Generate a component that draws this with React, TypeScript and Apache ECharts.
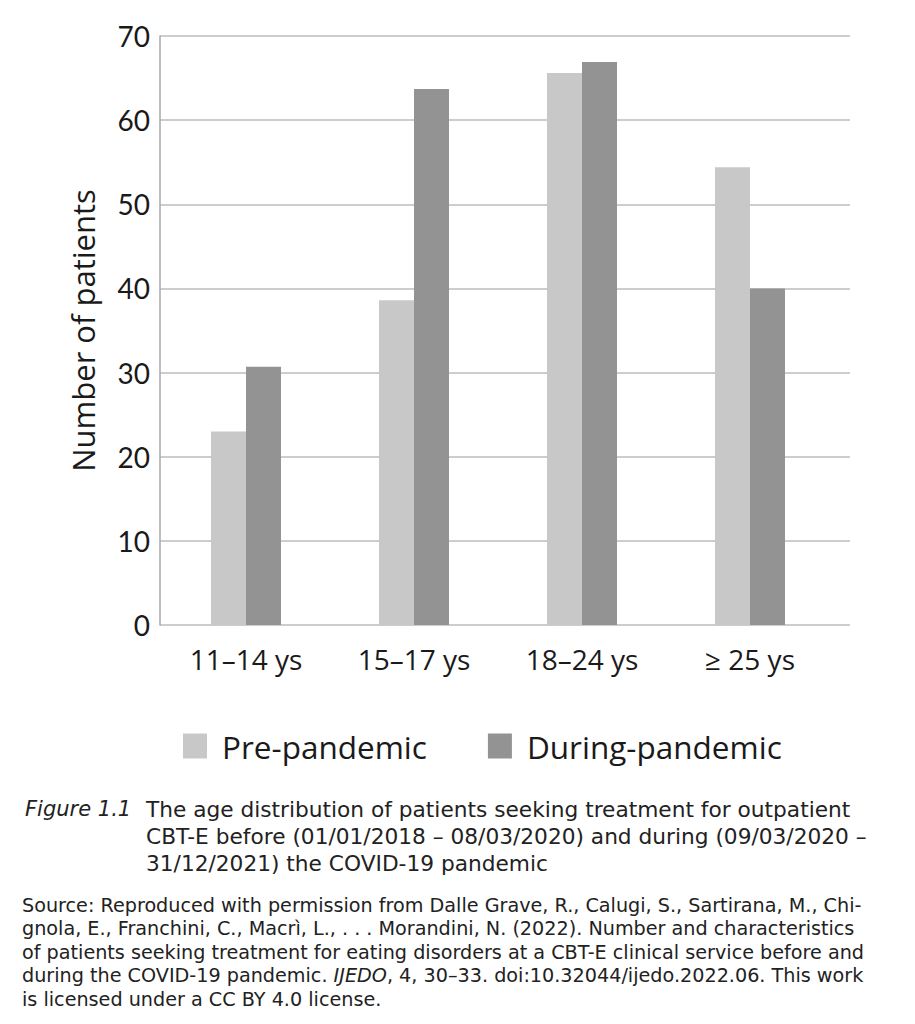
import React, { useEffect, useRef } from "react";
import * as echarts from "echarts";

const categories = ["11–14 ys", "15–17 ys", "18–24 ys", "≥ 25 ys"];
const prePandemic = [23, 38.6, 65.6, 54.4];
const duringPandemic = [30.7, 63.7, 66.9, 40];
const seriesNames = ["Pre-pandemic", "During-pandemic"];
const yTicks = { min: 0, max: 70, interval: 10 };

const figureLabel = "Figure 1.1";
const captionLines = [
  "The age distribution of patients seeking treatment for outpatient",
  "CBT-E before (01/01/2018 – 08/03/2020) and during (09/03/2020 –",
  "31/12/2021) the COVID-19 pandemic",
];
const sourceLines = [
  "Source: Reproduced with permission from Dalle Grave, R., Calugi, S., Sartirana, M., Chi-",
  "gnola, E., Franchini, C., Macrì, L., . . . Morandini, N. (2022). Number and characteristics",
  "of patients seeking treatment for eating disorders at a CBT-E clinical service before and",
  "{i|during the COVID-19 pandemic. }{it|IJEDO}{i|, 4, 30–33. doi:10.32044/ijedo.2022.06. This work}",
  "is licensed under a CC BY 4.0 license.",
];

const FONT = "'Open Sans', 'Noto Sans', sans-serif";
const TICK_FONT = "Lato, 'Open Sans', sans-serif";
const CAP_FONT = "'DejaVu Sans', sans-serif";

export default function App() {
  const ref = useRef<HTMLDivElement>(null);
  useEffect(() => {
    if (!ref.current) return;
    const chart = echarts.init(ref.current, undefined, { renderer: "svg" });
    const graphics: any[] = [];
    graphics.push({
      type: "text",
      x: 25,
      y: 809,
      style: {
        text: figureLabel,
        fontFamily: CAP_FONT,
        fontStyle: "italic",
        fontSize: 21,
        fill: "#222",
        verticalAlign: "middle",
      },
    });
    captionLines.forEach((t, i) => {
      graphics.push({
        type: "text",
        x: 146,
        y: 809 + i * 27,
        style: { text: t, fontFamily: CAP_FONT, fontSize: 21.7, fill: "#222", verticalAlign: "middle" },
      });
    });
    sourceLines.forEach((t, i) => {
      graphics.push({
        type: "text",
        x: 22,
        y: 905 + i * 23.5,
        style: {
          text: t,
          fontFamily: CAP_FONT,
          fontSize: 19.2,
          fill: "#222",
          verticalAlign: "middle",
          rich: {
            i: { fontFamily: CAP_FONT, fontSize: 19.2, fill: "#222" },
            it: { fontFamily: CAP_FONT, fontSize: 19.2, fontStyle: "italic", fill: "#222" },
          },
        },
      });
    });

    chart.setOption({
      animation: false,
      textStyle: { fontFamily: FONT },
      grid: [
        { left: 160, top: 36, width: 690, height: 589 },
        { left: 162, top: 36, width: 672, height: 589 },
      ],
      xAxis: [
        { gridIndex: 0, type: "value", min: 0, max: 1, show: false },
        {
          gridIndex: 1,
          type: "category",
          data: categories,
          axisLine: { show: false },
          axisTick: { show: false },
          axisLabel: { fontSize: 28, color: "#1a1a1a", margin: 20, fontFamily: FONT },
        },
      ],
      yAxis: [
        {
          gridIndex: 0,
          type: "value",
          min: yTicks.min,
          max: yTicks.max,
          interval: yTicks.interval,
          name: "Number of patients",
          nameLocation: "middle",
          nameGap: 62,
          nameTextStyle: { fontSize: 31, color: "#1a1a1a", fontFamily: FONT },
          axisLine: { show: true, lineStyle: { color: "#a8a8a8", width: 1.5 } },
          axisTick: { show: false },
          axisLabel: { fontSize: 28, color: "#1a1a1a", margin: 10, fontFamily: TICK_FONT },
          splitLine: { show: true, lineStyle: { color: "#bcbcbc", width: 1.5 } },
        },
        {
          gridIndex: 1,
          type: "value",
          min: yTicks.min,
          max: yTicks.max,
          interval: yTicks.interval,
          show: false,
          splitLine: { show: false },
        },
      ],
      legend: {
        left: 178,
        top: 725,
        itemWidth: 24,
        itemHeight: 25,
        itemGap: 61,
        icon: "rect",
        data: seriesNames,
        textStyle: { fontSize: 31.5, color: "#1a1a1a", fontFamily: FONT, padding: [0, 0, 0, 10] },
      },
      series: [
        {
          name: seriesNames[0],
          type: "bar",
          xAxisIndex: 1,
          yAxisIndex: 1,
          data: prePandemic,
          barWidth: 35,
          barGap: "0%",
          itemStyle: { color: "#c8c8c8" },
        },
        {
          name: seriesNames[1],
          type: "bar",
          xAxisIndex: 1,
          yAxisIndex: 1,
          data: duringPandemic,
          barWidth: 35,
          barGap: "0%",
          itemStyle: { color: "#939393" },
        },
      ],
      graphic: graphics,
    });
    return () => chart.dispose();
  }, []);
  return (
    <div
      ref={ref}
      style={{ position: "fixed", left: 0, top: 0, width: 915, height: 1024, background: "#fff" }}
    />
  );
}
